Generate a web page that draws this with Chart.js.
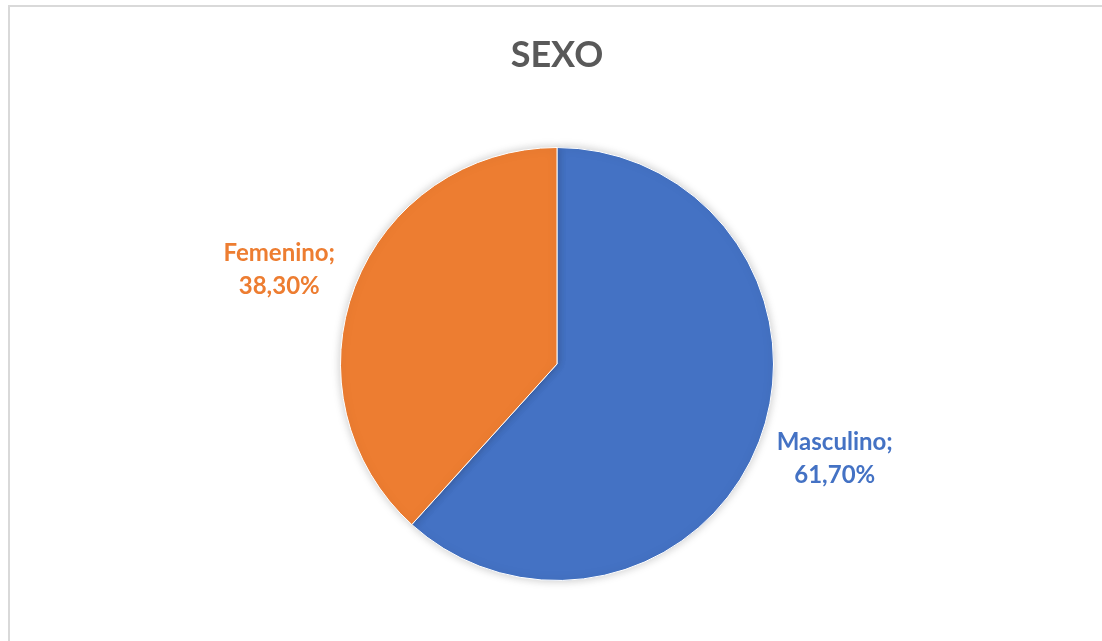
<!DOCTYPE html>
<html>
<head>
<meta charset="utf-8">
<script src="https://cdn.jsdelivr.net/npm/chart.js@4/dist/chart.umd.min.js"></script>
<style>
    html, body { margin: 0; padding: 0; background: #fff; }
    body { width: 1102px; height: 641px; overflow: hidden; position: relative; }
    .frame {
        position: absolute; left: 8px; top: 5px; width: 1110px; height: 660px;
        border-left: 2px solid #d9d9d9; border-top: 2px solid #d9d9d9;
    }
    #wrap { position: absolute; left: 0; top: 0; width: 1102px; height: 641px; }
</style>
</head>
<body>
<div class="frame"></div>
<div id="wrap"><canvas id="sexChart"></canvas></div>
<script>
// DATA
const categories = ["Masculino", "Femenino"];
const percents = [61.7, 38.3];
const sliceColors = ["#4472C4", "#ED7D31"];

const FONT = "Lato, 'Open Sans', sans-serif";

// labels outside the pie: "Name;" and "xx,xx%"
const outsideLabels = {
    id: "outsideLabels",
    afterDatasetsDraw(chart) {
        const ctx = chart.ctx;
        const meta = chart.getDatasetMeta(0);
        ctx.save();
        ctx.font = "bold 24px " + FONT;
        ctx.textAlign = "center";
        ctx.textBaseline = "middle";
        meta.data.forEach((arc, i) => {
            const mid = (arc.startAngle + arc.endAngle) / 2 - 0.04;
            const dist = arc.outerRadius * 1.355;
            const x = arc.x + Math.cos(mid) * dist;
            const y = arc.y + Math.sin(mid) * dist;
            const pct = percents[i].toFixed(2).replace(".", ",") + "%";
            ctx.fillStyle = sliceColors[i];
            ctx.fillText(categories[i] + ";", x, y - 16);
            ctx.fillText(pct, x, y + 17);
        });
        ctx.restore();
    }
};

// soft shadow under the pie
const pieShadow = {
    id: "pieShadow",
    beforeDatasetsDraw(chart) {
        const ctx = chart.ctx;
        ctx.save();
        ctx.shadowColor = "rgba(0,0,0,0.22)";
        ctx.shadowBlur = 10;
    },
    afterDatasetsDraw(chart) {
        chart.ctx.restore();
    }
};

const chart = new Chart(document.getElementById("sexChart"), {
    type: "pie",
    data: {
        labels: categories,
        datasets: [{
            data: percents,
            backgroundColor: sliceColors,
            borderColor: "#ffffff",
            borderWidth: 1
        }]
    },
    options: {
        responsive: true,
        maintainAspectRatio: false,
        animation: false,
        layout: { padding: { top: 0, bottom: 60, left: 340, right: 328 } },
        plugins: {
            legend: { display: false },
            tooltip: { enabled: false },
            title: {
                display: true,
                text: "SEXO",
                color: "#595959",
                font: { family: FONT, size: 36, weight: "bold" },
                padding: { top: 34, bottom: 69.8 }
            }
        }
    },
    plugins: [pieShadow, outsideLabels]
});
</script>
</body>
</html>
